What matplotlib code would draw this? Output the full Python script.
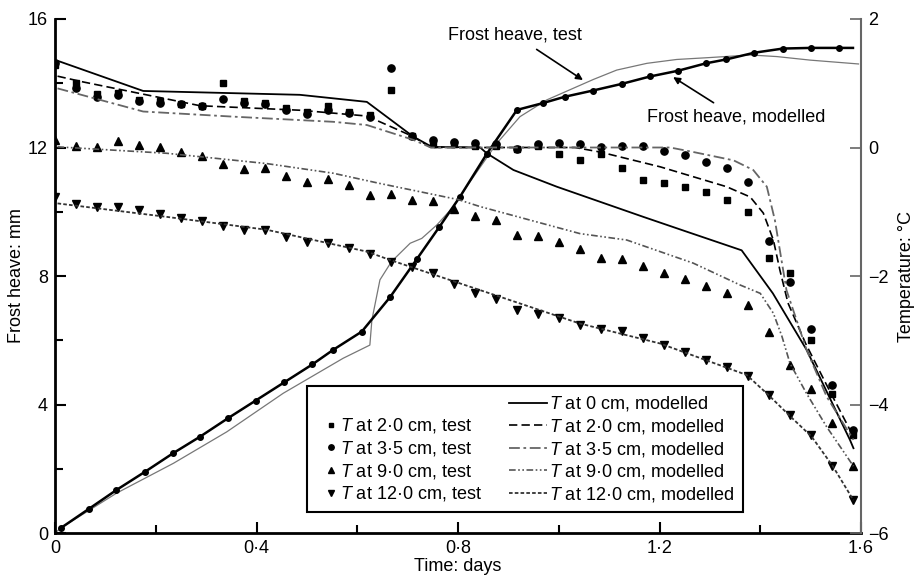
import matplotlib
matplotlib.use('Agg')
import matplotlib.pyplot as plt
from matplotlib.lines import Line2D
from matplotlib.legend_handler import HandlerLine2D
from matplotlib.ticker import MultipleLocator

plt.rcParams['font.family'] = ['Liberation Sans', 'DejaVu Sans']
plt.rcParams['font.size'] = 13
plt.rcParams['mathtext.fontset'] = 'custom'
plt.rcParams['mathtext.it'] = 'Liberation Sans:italic'
plt.rcParams['mathtext.rm'] = 'Liberation Sans'

# test readings every hour (days)
hours = list(range(39))
t_test = [h / 24 for h in hours]

t2_test = [1.28, 1.00, 0.83, 0.85, 0.74, 0.72, 0.68, 0.65, 1.01, 0.72,
           0.70, 0.62, 0.56, 0.64, 0.56, 0.50, 0.89, 0.18, 0.06, 0.05,
           0.03, 0.02, -0.02, 0.02, -0.10, -0.20, -0.10, -0.32, -0.51, -0.56,
           -0.62, -0.70, -0.81, -1.01, -1.72, -1.96, -2.99, -3.83, -4.47]
t35_test = [1.31, 0.92, 0.79, 0.82, 0.72, 0.70, 0.67, 0.64, 0.75, 0.70,
            0.68, 0.58, 0.52, 0.58, 0.54, 0.48, 1.23, 0.18, 0.12, 0.09,
            0.07, 0.06, -0.03, 0.05, 0.07, 0.06, 0.01, 0.03, 0.02, -0.05,
            -0.12, -0.22, -0.32, -0.53, -1.46, -2.09, -2.83, -3.69, -4.40]
t9_test = [0.12, 0.03, 0.01, 0.10, 0.04, 0.01, -0.07, -0.13, -0.26, -0.34,
           -0.32, -0.45, -0.53, -0.49, -0.59, -0.74, -0.72, -0.82, -0.84, -0.95,
           -1.07, -1.13, -1.36, -1.38, -1.47, -1.58, -1.72, -1.74, -1.84, -1.95,
           -2.04, -2.16, -2.27, -2.45, -2.87, -3.38, -3.76, -4.29, -4.96]
t12_test = [-0.77, -0.88, -0.92, -0.92, -0.98, -1.04, -1.10, -1.15, -1.22, -1.28,
            -1.29, -1.39, -1.47, -1.48, -1.57, -1.66, -1.78, -1.86, -1.95, -2.12,
            -2.27, -2.36, -2.53, -2.59, -2.66, -2.76, -2.83, -2.85, -2.97, -3.07,
            -3.18, -3.30, -3.41, -3.56, -3.85, -4.16, -4.48, -4.96, -5.49]

# modelled temperature curves (days, degC)
t0_mod_x = [0.005, 0.175, 0.486, 0.619, 0.711, 0.748, 0.844, 0.857, 0.91, 0.996,
            1.168, 1.254, 1.363, 1.425, 1.492, 1.578, 1.585]
t0_mod_y = [1.35, 0.88, 0.82, 0.71, 0.17, 0.01, 0.0, -0.09, -0.35, -0.61,
            -1.08, -1.31, -1.60, -2.27, -3.15, -4.55, -4.68]
t2_mod_x = [0.005, 0.056, 0.288, 0.486, 0.619, 0.711, 0.746, 1.032, 1.082, 1.201,
            1.333, 1.380, 1.406, 1.426, 1.439, 1.455, 1.49, 1.53, 1.585]
t2_mod_y = [1.11, 1.02, 0.65, 0.58, 0.49, 0.17, 0.0, 0.0, -0.07, -0.30,
            -0.61, -0.77, -1.02, -1.44, -1.91, -2.42, -3.05, -3.67, -4.50]
t35_mod_x = [0.005, 0.175, 0.354, 0.552, 0.619, 0.711, 0.746, 1.221, 1.267, 1.347,
             1.386, 1.413, 1.429, 1.452, 1.492, 1.532, 1.585]
t35_mod_y = [0.92, 0.56, 0.48, 0.40, 0.35, 0.12, 0.0, 0.0, -0.07, -0.20,
             -0.35, -0.61, -1.13, -2.22, -3.15, -3.88, -4.55]
t9_mod_x = [0.005, 0.222, 0.42, 0.552, 0.645, 0.80, 0.844, 1.042, 1.135, 1.267,
            1.360, 1.400, 1.426, 1.443, 1.459, 1.492, 1.532, 1.585]
t9_mod_y = [0.01, -0.09, -0.25, -0.40, -0.56, -0.81, -0.92, -1.34, -1.44, -1.80,
            -2.14, -2.27, -2.58, -2.94, -3.36, -3.83, -4.35, -4.96]
t12_mod_x = [0.005, 0.222, 0.42, 0.619, 0.665, 0.844, 1.042, 1.201, 1.373, 1.416,
             1.459, 1.502, 1.544, 1.585]
t12_mod_y = [-0.87, -1.08, -1.28, -1.62, -1.75, -2.22, -2.74, -3.05, -3.54, -3.85,
             -4.18, -4.50, -4.96, -5.49]

# frost heave (days, mm)
fh_mod_x = [0.011, 0.068, 0.122, 0.179, 0.234, 0.288, 0.343, 0.398, 0.455, 0.511,
            0.552, 0.609, 0.665, 0.718, 0.763, 0.804, 0.857, 0.917, 0.968, 1.012,
            1.067, 1.125, 1.181, 1.237, 1.292, 1.332, 1.388, 1.445, 1.500, 1.556, 1.584]
fh_mod_y = [0.15, 0.76, 1.34, 1.91, 2.48, 3.00, 3.57, 4.12, 4.69, 5.25,
            5.70, 6.27, 7.34, 8.52, 9.53, 10.47, 11.80, 13.17, 13.38, 13.58,
            13.77, 13.98, 14.21, 14.39, 14.62, 14.74, 14.95, 15.08, 15.10, 15.10, 15.10]
fh_test_x = [0.0, 0.011, 0.122, 0.235, 0.341, 0.453, 0.572, 0.625, 0.629, 0.645,
             0.668, 0.705, 0.728, 0.758, 0.791, 0.817, 0.877, 0.923, 0.976, 1.069,
             1.115, 1.175, 1.234, 1.300, 1.380, 1.433, 1.499, 1.595]
fh_test_y = [0.0, 0.15, 1.24, 2.17, 3.15, 4.35, 5.44, 5.85, 6.63, 7.88,
             8.45, 9.02, 9.17, 9.59, 10.16, 10.78, 12.13, 12.96, 13.48, 14.12,
             14.41, 14.62, 14.74, 14.80, 14.88, 14.83, 14.72, 14.60]


# legend handlers: marker close to its text, lines longer than the handle box
class MarkerRight(HandlerLine2D):
    def get_xdata(self, legend, xdescent, ydescent, width, height, fontsize):
        xm = -xdescent + 0.7 * width
        return [xm - 1, xm + 1], [xm]


class LineLeft(HandlerLine2D):
    def get_xdata(self, legend, xdescent, ydescent, width, height, fontsize):
        xdata = [-xdescent - 0.9 * fontsize, -xdescent + width]
        return xdata, xdata


fig = plt.figure(figsize=(9.2, 5.79), dpi=100)
ax = fig.add_axes([0.0598, 0.0794, 0.8761, 0.8878])
ax2 = ax.twinx()

# frost heave on the left axis
ax.plot(fh_test_x, fh_test_y, color='#777777', lw=0.9)
ax.plot(fh_mod_x, fh_mod_y, color='black', lw=1.8, marker='o', ms=4,
        markevery=list(range(len(fh_mod_x) - 1)))

# temperatures on the right axis
m2, = ax2.plot(t_test, t2_test, 's', color='black', ms=4.6, ls='none')
m35, = ax2.plot(t_test, t35_test, 'o', color='black', ms=5.2, ls='none')
m9, = ax2.plot(t_test, t9_test, '^', color='black', ms=5.6, ls='none')
m12, = ax2.plot(t_test, t12_test, 'v', color='black', ms=5.6, ls='none')

l0, = ax2.plot(t0_mod_x, t0_mod_y, color='black', lw=1.3)
l2, = ax2.plot(t2_mod_x, t2_mod_y, color='black', lw=1.2, dashes=(5, 2.5))
l35, = ax2.plot(t35_mod_x, t35_mod_y, color='#666666', lw=1.3, dashes=(6, 2, 1.5, 2))
l9, = ax2.plot(t9_mod_x, t9_mod_y, color='#555555', lw=1.2, dashes=(4, 1.5, 1, 1.5, 1, 1.5))
l12, = ax2.plot(t12_mod_x, t12_mod_y, color='#333333', lw=1.3, dashes=(2, 1.2))

# axes, ticks
ax.set_xlim(0, 1.6)
ax.set_ylim(0, 16)
ax2.set_ylim(-6, 2)
ax.set_xticks([0, 0.4, 0.8, 1.2, 1.6])
ax.set_xticklabels(['0', '0·4', '0·8', '1·2', '1·6'])
ax.xaxis.set_minor_locator(MultipleLocator(0.2))
ax.set_yticks([0, 4, 8, 12, 16])
ax.yaxis.set_minor_locator(MultipleLocator(2))
ax2.set_yticks([-6, -4, -2, 0, 2])
ax2.set_yticklabels(['−6', '−4', '−2', '0', '2'])

ax.tick_params(which='major', direction='in', length=8, width=1.5, pad=5)
ax.tick_params(which='minor', direction='in', length=6, width=1.5)
ax2.tick_params(direction='in', length=8, width=1.2, color='#666666', pad=5)

for a in (ax, ax2):
    a.spines['top'].set_visible(False)
ax.spines['left'].set_linewidth(2)
ax.spines['bottom'].set_linewidth(2)
ax.spines['right'].set_visible(False)
ax2.spines['left'].set_visible(False)
ax2.spines['bottom'].set_visible(False)
ax2.spines['right'].set_color('#666666')
ax2.spines['right'].set_linewidth(1.5)

ax.set_xlabel('Time: days', labelpad=1)
ax.set_ylabel('Frost heave: mm', labelpad=2)
ax2.set_ylabel('Temperature: °C', labelpad=7)

# annotations
arrow = dict(arrowstyle='-|>', color='black', lw=1.2, mutation_scale=10, shrinkA=4, shrinkB=0)
ax.annotate('Frost heave, test', xy=(1.048, 14.1), xytext=(0.913, 15.5),
            ha='center', va='center', arrowprops=arrow)
ax.annotate('Frost heave, modelled', xy=(1.227, 14.19), xytext=(1.352, 12.95),
            ha='center', va='center', arrowprops=arrow)

# legend: empty first slot in left column
blank = Line2D([], [], ls='none', marker='none')
handles = [blank, m2, m35, m9, m12, l0, l2, l35, l9, l12]
labels = [' ',
          '$T$ at 2·0 cm, test', '$T$ at 3·5 cm, test',
          '$T$ at 9·0 cm, test', '$T$ at 12·0 cm, test',
          '$T$ at 0 cm, modelled', '$T$ at 2·0 cm, modelled',
          '$T$ at 3·5 cm, modelled', '$T$ at 9·0 cm, modelled',
          '$T$ at 12·0 cm, modelled']
mk = MarkerRight()
ln = LineLeft()
hmap = {m2: mk, m35: mk, m9: mk, m12: mk, l0: ln, l2: ln, l35: ln, l9: ln, l12: ln}
leg = ax2.legend(handles, labels, ncol=2, loc='lower left', bbox_to_anchor=(0.313, 0.041),
                 frameon=True, fancybox=False, edgecolor='black', framealpha=1,
                 handlelength=1.2, handletextpad=0.15, labelspacing=0.2,
                 columnspacing=2.4, borderpad=0.45, borderaxespad=0, numpoints=1,
                 markerscale=0.75, handler_map=hmap)
leg.get_frame().set_linewidth(1.5)

plt.savefig('out.png', dpi=100)
